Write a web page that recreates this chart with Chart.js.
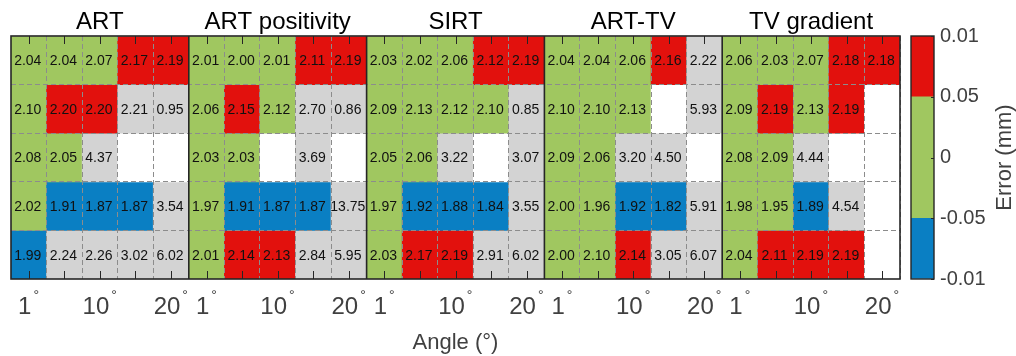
<!DOCTYPE html>
<html><head><meta charset="utf-8">
<script src="https://cdn.jsdelivr.net/npm/chart.js@4/dist/chart.umd.min.js"></script>
<style>
html,body{margin:0;padding:0;background:#fff;}
#wrap{position:relative;width:1016px;height:356px;overflow:hidden;}
canvas{position:absolute;left:0;top:0;}
</style></head><body>
<div id="wrap"><canvas id="main" width="1016" height="356"></canvas><canvas id="cbar" width="1016" height="356"></canvas></div>
<script>
// ---------- data ----------
const methods = ['ART', 'ART positivity', 'SIRT', 'ART-TV', 'TV gradient'];
const angles = [1, 5, 10, 15, 20];
const shownAngles = [1, 10, 20];
const xTitle = 'Angle (°)';
const cbarTitle = 'Error (mm)';
// rows top to bottom, null = empty cell
const artValues = [[2.04,2.04,2.07,2.17,2.19],[2.10,2.20,2.20,2.21,0.95],[2.08,2.05,4.37,null,null],[2.02,1.91,1.87,1.87,3.54],[1.99,2.24,2.26,3.02,6.02]];
const artPosValues = [[2.01,2.00,2.01,2.11,2.19],[2.06,2.15,2.12,2.70,0.86],[2.03,2.03,null,3.69,null],[1.97,1.91,1.87,1.87,13.75],[2.01,2.14,2.13,2.84,5.95]];
const sirtValues = [[2.03,2.02,2.06,2.12,2.19],[2.09,2.13,2.12,2.10,0.85],[2.05,2.06,3.22,null,3.07],[1.97,1.92,1.88,1.84,3.55],[2.03,2.17,2.19,2.91,6.02]];
const artTvValues = [[2.04,2.04,2.06,2.16,2.22],[2.10,2.10,2.13,null,5.93],[2.09,2.06,3.20,4.50,null],[2.00,1.96,1.92,1.82,5.91],[2.00,2.10,2.14,3.05,6.07]];
const tvGradValues = [[2.06,2.03,2.07,2.18,2.18],[2.09,2.19,2.13,2.19,null],[2.08,2.09,4.44,null,null],[1.98,1.95,1.89,4.54,null],[2.04,2.11,2.19,2.19,null]];
// error class per cell: G = within ±0.05, R = above, B = below, N = out of range, W = none
const artClasses = ['GGGRR','GRRNN','GGNWW','GBBBN','BNNNN'];
const artPosClasses = ['GGGRR','GRGNN','GGWNW','GBBBN','GRRNN'];
const sirtClasses = ['GGGRR','GGGGN','GGNWN','GBBBN','GRRNN'];
const artTvClasses = ['GGGRN','GGGWN','GGNNW','GGBBN','GGRNN'];
const tvGradClasses = ['GGGRR','GRGRW','GGNWW','GGBNW','GRRRW'];
const cbarTickLabels = ['0.01', '0.05', '0', '-0.05', '-0.01']; // top to bottom
const cbarSegments = [[0, 1], [1, 3], [3, 4]];
const cbarClasses = ['B', 'G', 'R'];

// ---------- styles ----------
const classColors = { G: '#a0c760', R: '#e2110d', B: '#0a7fc3', N: '#d3d3d3', W: '#ffffff' };
const FONT = "'Liberation Sans', Arial, sans-serif";
const AXIS_DARK = '#262626';

const allValues = [artValues, artPosValues, sirtValues, artTvValues, tvGradValues];
const allClasses = [artClasses, artPosClasses, sirtClasses, artTvClasses, tvGradClasses];

const labels = [];
methods.forEach(() => angles.forEach(a => labels.push(String(a))));

const datasets = [];
for (let r = 0; r < 5; r++) {
  const data = [], colors = [], vals = [];
  for (let m = 0; m < methods.length; m++) {
    for (let c = 0; c < angles.length; c++) {
      data.push([r, r + 1]);
      colors.push(classColors[allClasses[m][r][c]]);
      vals.push(allValues[m][r][c]);
    }
  }
  datasets.push({ data, backgroundColor: colors, cellValues: vals, borderWidth: 0,
    barPercentage: 1, categoryPercentage: 1, grouped: false });
}

const mainPlugin = {
  id: 'heatExtras',
  afterDraw(chart) {
    const ctx = chart.ctx, a = chart.chartArea, xs = chart.scales.x;
    ctx.save();
    // cell labels
    ctx.fillStyle = '#111';
    ctx.font = '14px ' + FONT;
    ctx.textAlign = 'center';
    ctx.textBaseline = 'middle';
    chart.data.datasets.forEach((ds, di) => {
      chart.getDatasetMeta(di).data.forEach((el, i) => {
        const v = ds.cellValues[i];
        if (v === null) return;
        ctx.fillText(v.toFixed(2), el.x - 1, (el.y + el.base) / 2 + 1);
      });
    });
    // inward tick marks
    ctx.strokeStyle = AXIS_DARK;
    ctx.lineWidth = 1;
    ctx.beginPath();
    for (let i = 0; i < labels.length; i++) {
      const x = Math.round(xs.getPixelForTick(i)) + 0.5;
      ctx.moveTo(x, a.top); ctx.lineTo(x, a.top + 8);
      ctx.moveTo(x, a.bottom); ctx.lineTo(x, a.bottom - 8);
    }
    ctx.stroke();
    // panel separators and frame
    ctx.lineWidth = 1.6;
    ctx.beginPath();
    for (let k = 1; k < methods.length; k++) {
      const x = (xs.getPixelForTick(k * 5 - 1) + xs.getPixelForTick(k * 5)) / 2;
      ctx.moveTo(x, a.top); ctx.lineTo(x, a.bottom);
    }
    ctx.stroke();
    ctx.strokeRect(a.left, a.top, a.right - a.left, a.bottom - a.top);
    // degree superscripts on tick labels
    const tickFont = '24px ' + FONT;
    const off = xs.options.ticks.labelOffset;
    for (let i = 0; i < labels.length; i++) {
      const ang = angles[i % 5];
      if (!shownAngles.includes(ang)) continue;
      ctx.font = tickFont;
      const w = ctx.measureText(String(ang)).width;
      const x = xs.getPixelForTick(i) + off + w / 2 + 2;
      ctx.font = '14px ' + FONT;
      ctx.fillStyle = '#404040';
      ctx.textAlign = 'left';
      ctx.textBaseline = 'alphabetic';
      ctx.fillText('°', x, 300);
    }
    ctx.restore();
  }
};

new Chart(document.getElementById('main'), {
  type: 'bar',
  data: { labels, datasets },
  options: {
    responsive: false, animation: false, devicePixelRatio: 1,
    layout: { padding: { left: 11, right: 116, top: 0, bottom: 0 } },
    plugins: { legend: { display: false }, tooltip: { enabled: false } },
    scales: {
      x: {
        type: 'category', position: 'bottom', offset: true,
        afterFit: s => { s.height = 77; },
        grid: { z: 1, offset: true, drawTicks: false, lineWidth: 1,
          color: c => (c.index % 5 === 0 ? 'rgba(0,0,0,0)' : '#8c8c8c') },
        border: { display: false, dash: [5, 3] },
        ticks: { autoSkip: false, maxRotation: 0, minRotation: 0, padding: 14, labelOffset: -4,
          color: '#404040', font: { family: FONT, size: 24 },
          callback: (v, i) => (shownAngles.includes(angles[i % 5]) ? String(angles[i % 5]) : '') },
        title: { display: true, text: xTitle, color: '#404040', font: { family: FONT, size: 22 },
          padding: { top: 0, bottom: 0 } }
      },
      x2: {
        type: 'category', position: 'top', labels: methods, offset: true,
        afterFit: s => { s.height = 36; },
        grid: { display: false, drawTicks: false },
        border: { display: false },
        ticks: { autoSkip: false, maxRotation: 0, padding: -1, color: '#000', font: { family: FONT, size: 24 } }
      },
      y: {
        type: 'linear', min: 0, max: 5, reverse: true,
        afterFit: s => { s.width = 0; },
        ticks: { display: false, stepSize: 1 },
        grid: { z: 1, drawTicks: false, lineWidth: 1,
          color: c => ((c.tick && (c.tick.value === 0 || c.tick.value === 5)) ? 'rgba(0,0,0,0)' : '#8c8c8c') },
        border: { display: false, dash: [5, 3] }
      }
    }
  },
  plugins: [mainPlugin]
});

// ---------- colorbar ----------
const cbarPlugin = {
  id: 'cbarExtras',
  afterDraw(chart) {
    const ctx = chart.ctx, a = chart.chartArea, ys = chart.scales.y;
    ctx.save();
    ctx.strokeStyle = AXIS_DARK;
    ctx.lineWidth = 1.4;
    ctx.strokeRect(a.left, a.top, a.right - a.left, a.bottom - a.top);
    ctx.lineWidth = 1;
    ctx.beginPath();
    ys.ticks.forEach(t => {
      const y = Math.round(ys.getPixelForValue(t.value)) + 0.5;
      ctx.moveTo(a.right, y); ctx.lineTo(a.right - 3, y);
    });
    ctx.stroke();
    ctx.translate(1005, (a.top + a.bottom) / 2);
    ctx.rotate(-Math.PI / 2);
    ctx.fillStyle = '#404040';
    ctx.font = '22px ' + FONT;
    ctx.textAlign = 'center';
    ctx.textBaseline = 'middle';
    ctx.fillText(cbarTitle, 0, 0);
    ctx.restore();
  }
};

new Chart(document.getElementById('cbar'), {
  type: 'bar',
  data: {
    labels: [''],
    datasets: cbarSegments.map((seg, i) => ({
      data: [seg], backgroundColor: classColors[cbarClasses[i]], borderWidth: 0,
      barPercentage: 1, categoryPercentage: 1, grouped: false
    }))
  },
  options: {
    responsive: false, animation: false, devicePixelRatio: 1,
    layout: { padding: { left: 911, right: 0, top: 36, bottom: 77 } },
    plugins: { legend: { display: false }, tooltip: { enabled: false } },
    scales: {
      x: { display: false },
      y: {
        type: 'linear', position: 'right', min: 0, max: 4,
        afterFit: s => { s.width = 82; },
        grid: { drawOnChartArea: false, drawTicks: false },
        border: { display: false },
        ticks: { stepSize: 1, padding: 6, color: '#404040', font: { family: FONT, size: 20 },
          callback: v => cbarTickLabels[4 - v] }
      }
    }
  },
  plugins: [cbarPlugin]
});
</script>
</body></html>
